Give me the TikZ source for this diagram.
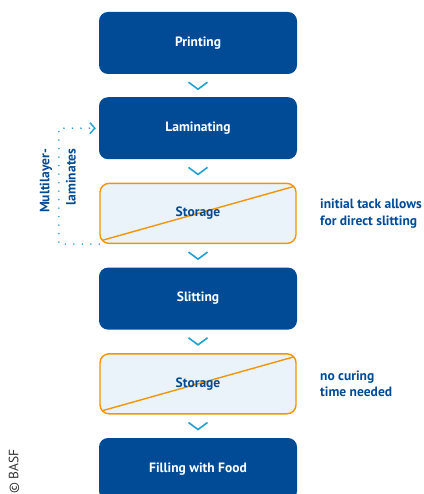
\documentclass[tikz,border=0pt]{standalone}
\usepackage{fontspec}
\setmainfont{PT Sans}
\usetikzlibrary{arrows.meta,positioning,decorations.markings}

\definecolor{basfblue}{HTML}{004A96}
\definecolor{basflight}{HTML}{21A0D2}
\definecolor{basforange}{HTML}{F39500}
\definecolor{storefill}{HTML}{EAF2FA}

\begin{document}
\begin{tikzpicture}[node distance=85.2pt, on grid,
                    every node/.style={font=\bfseries\fontsize{13.5}{16.5}\selectfont},
                    process/.style={rectangle, rounded corners=9pt, fill=basfblue,
                                    text=white, minimum width=198pt, minimum height=62pt},
                    storage/.style={rectangle, rounded corners=9pt, fill=storefill,
                                    draw=basforange, line width=1.4pt, text=basfblue,
                                    minimum width=196pt, minimum height=60pt,
                                    path picture={\draw[basforange, line width=1.4pt]
                                      ([shift={(2pt,3pt)}]path picture bounding box.south west) --
                                      ([shift={(-2pt,-3pt)}]path picture bounding box.north east);}},
                    next/.style={postaction={decorate, decoration={markings,
                                 mark=at position 16pt with {\arrow[basflight, line width=1.6pt]{Straight Barb[length=7pt, width=19pt]}}}}},
                    backloop/.style={basflight, line width=1.8pt, line cap=round,
                                     dash pattern=on 0pt off 8.5pt, shorten >=3pt,
                                     -{Straight Barb[length=5pt, width=11pt, line width=1.4pt]}},
                    note/.style={text=basfblue, align=left, anchor=west}]
    %\draw[help lines] (0,0) grid (423pt,-494pt);
    \useasboundingbox (0,0) rectangle (423pt,-494pt);

    \node[process] (printing)    at (198pt,-43pt)           {Printing};
    \node[process] (laminating)  [below=of printing]        {Laminating};
    \node[storage] (storage_a)   [below=of laminating]      {Storage};
    \node[process] (slitting)    [below=of storage_a]       {Slitting};
    \node[storage] (storage_b)   [below=of slitting]        {Storage};
    \node[process] (filling)     [below=of storage_b]       {Filling with Food};

    % chevrons between the steps
    \path[next] (printing)   -- (laminating);
    \path[next] (laminating) -- (storage_a);
    \path[next] (storage_a)  -- (slitting);
    \path[next] (slitting)   -- (storage_b);
    \path[next] (storage_b)  -- (filling);

    % multilayer laminates skip back
    \coordinate[left=40pt of laminating.west] (bend);
    \draw[backloop] (storage_a.south west) -| (bend) -- (laminating.west);
    \node[text=basfblue, rotate=90] (multi) at (46pt,-181pt) {Multilayer-};
    \node[text=basfblue, rotate=90] (lami)  at (71pt,-177pt) {laminates};

    % side notes
    \node[note] (tack)   at ([xshift=20pt]storage_a.east) {initial tack allows\\for direct slitting};
    \node[note] (curing) at ([xshift=20pt]storage_b.east) {no curing\\time needed};

    \node[rotate=90, anchor=east, font=\fontsize{13.5}{15}\selectfont, text=black!80] (copy) at (14pt,-446pt) {© BASF};
\end{tikzpicture}
\end{document}
